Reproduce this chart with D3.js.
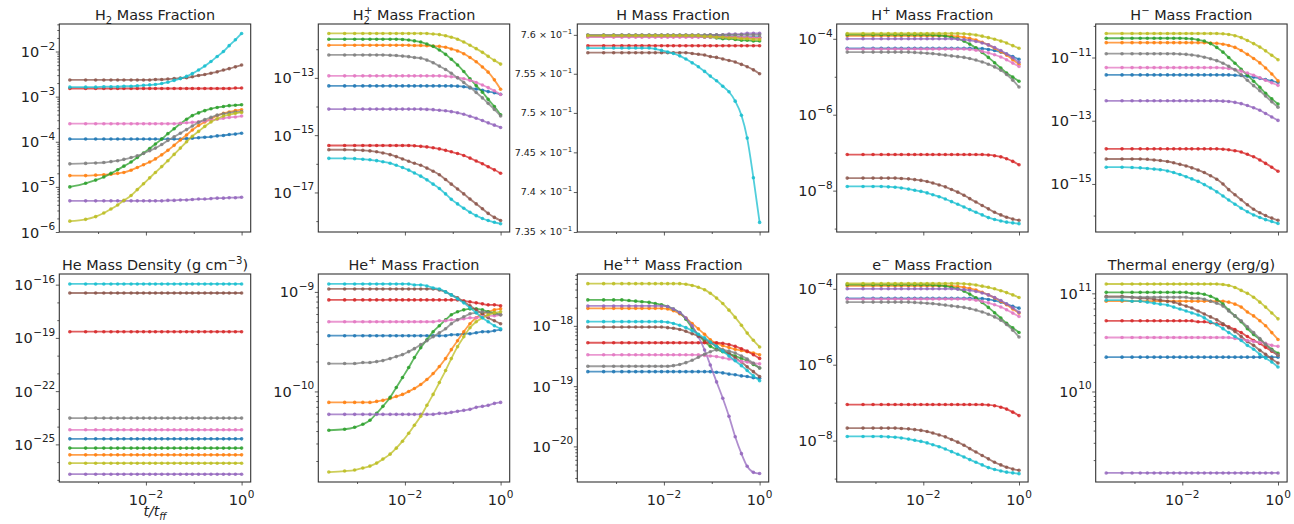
<!doctype html>
<html lang="en">
<head>
  <meta charset="utf-8">
  <title>Chemistry evolution</title>
  <script src="https://cdn.jsdelivr.net/npm/d3@7"></script>
  <style>
    body { margin: 0; background: #fff; }
    text { font-family: "DejaVu Sans", sans-serif; fill: #222; }
  </style>
</head>
<body>
<svg id="chart" width="1294" height="524"></svg>

<script>

// sample times t/t_ff (marker positions)
const tff = [2.57e-4, 5.50e-4, 8.91e-4, 1.32e-3, 1.86e-3, 2.57e-3, 3.47e-3, 4.90e-3, 6.61e-3, 8.91e-3,
  1.20e-2, 1.58e-2, 2.14e-2, 2.88e-2, 3.89e-2, 5.25e-2, 7.08e-2, 9.33e-2, 0.126, 0.170,
  0.229, 0.309, 0.417, 0.550, 0.741, 1.0]

// each panel: 10 runs, order blue, orange, green, red, purple, brown, pink, gray, olive, cyan
// values are log10 of the quantity, except hFrac which is the plain fraction

const h2Frac = [
  [-3.94,-3.94,-3.94,-3.94,-3.94,-3.94,-3.94,-3.94,-3.94,-3.94,-3.94,-3.94,-3.94,-3.94,-3.94,-3.94,-3.93,-3.92,-3.91,-3.90,-3.89,-3.87,-3.86,-3.84,-3.83,-3.81],
  [-4.75,-4.75,-4.74,-4.73,-4.72,-4.70,-4.68,-4.63,-4.57,-4.51,-4.45,-4.38,-4.29,-4.19,-4.08,-3.96,-3.85,-3.74,-3.64,-3.56,-3.49,-3.42,-3.37,-3.34,-3.31,-3.29],
  [-5.00,-4.92,-4.85,-4.78,-4.70,-4.62,-4.54,-4.45,-4.35,-4.25,-4.15,-4.05,-3.94,-3.82,-3.71,-3.60,-3.50,-3.42,-3.36,-3.31,-3.27,-3.24,-3.22,-3.20,-3.19,-3.18],
  [-2.82,-2.82,-2.82,-2.82,-2.82,-2.82,-2.82,-2.82,-2.82,-2.82,-2.82,-2.82,-2.82,-2.82,-2.82,-2.82,-2.82,-2.82,-2.82,-2.82,-2.82,-2.82,-2.82,-2.82,-2.81,-2.81],
  [-5.31,-5.31,-5.31,-5.31,-5.31,-5.31,-5.31,-5.31,-5.31,-5.31,-5.31,-5.31,-5.31,-5.30,-5.30,-5.29,-5.29,-5.28,-5.27,-5.27,-5.26,-5.25,-5.25,-5.24,-5.24,-5.23],
  [-2.63,-2.63,-2.63,-2.63,-2.63,-2.63,-2.63,-2.63,-2.63,-2.63,-2.63,-2.62,-2.62,-2.61,-2.60,-2.59,-2.58,-2.56,-2.53,-2.51,-2.48,-2.45,-2.41,-2.38,-2.34,-2.30],
  [-3.60,-3.60,-3.60,-3.60,-3.60,-3.60,-3.60,-3.60,-3.60,-3.60,-3.60,-3.60,-3.60,-3.60,-3.60,-3.59,-3.58,-3.57,-3.56,-3.54,-3.52,-3.50,-3.48,-3.46,-3.45,-3.43],
  [-4.49,-4.48,-4.47,-4.46,-4.44,-4.42,-4.39,-4.35,-4.31,-4.26,-4.20,-4.14,-4.06,-3.97,-3.89,-3.81,-3.73,-3.65,-3.57,-3.51,-3.46,-3.41,-3.38,-3.36,-3.34,-3.33],
  [-5.76,-5.72,-5.66,-5.58,-5.49,-5.40,-5.30,-5.19,-5.06,-4.93,-4.80,-4.68,-4.55,-4.42,-4.28,-4.14,-4.00,-3.88,-3.77,-3.66,-3.56,-3.49,-3.43,-3.40,-3.37,-3.35],
  [-2.79,-2.79,-2.79,-2.78,-2.78,-2.78,-2.77,-2.77,-2.76,-2.75,-2.74,-2.73,-2.71,-2.68,-2.64,-2.60,-2.55,-2.49,-2.41,-2.32,-2.22,-2.11,-2.00,-1.87,-1.74,-1.60]
]

const h2pFrac = [
  [-13.28,-13.28,-13.28,-13.28,-13.28,-13.28,-13.28,-13.28,-13.28,-13.28,-13.28,-13.28,-13.28,-13.28,-13.28,-13.28,-13.28,-13.28,-13.29,-13.31,-13.35,-13.39,-13.43,-13.48,-13.52,-13.57],
  [-11.86,-11.86,-11.86,-11.86,-11.86,-11.86,-11.86,-11.86,-11.86,-11.86,-11.86,-11.87,-11.87,-11.88,-11.89,-11.90,-11.93,-11.99,-12.06,-12.16,-12.29,-12.44,-12.62,-12.80,-13.07,-13.40],
  [-11.65,-11.65,-11.65,-11.65,-11.65,-11.65,-11.65,-11.65,-11.65,-11.66,-11.68,-11.71,-11.75,-11.82,-11.90,-12.03,-12.18,-12.35,-12.55,-12.78,-13.03,-13.27,-13.50,-13.75,-14.00,-14.29],
  [-15.36,-15.36,-15.36,-15.36,-15.36,-15.36,-15.36,-15.36,-15.36,-15.36,-15.36,-15.37,-15.39,-15.41,-15.44,-15.48,-15.53,-15.58,-15.64,-15.71,-15.80,-15.90,-16.00,-16.10,-16.21,-16.33],
  [-14.09,-14.09,-14.09,-14.09,-14.09,-14.09,-14.09,-14.09,-14.09,-14.09,-14.09,-14.09,-14.09,-14.10,-14.11,-14.13,-14.15,-14.18,-14.22,-14.27,-14.34,-14.41,-14.49,-14.57,-14.65,-14.73],
  [-15.51,-15.51,-15.52,-15.53,-15.55,-15.58,-15.62,-15.68,-15.75,-15.83,-15.91,-15.98,-16.05,-16.15,-16.26,-16.38,-16.55,-16.71,-16.88,-17.05,-17.23,-17.40,-17.57,-17.73,-17.87,-17.98],
  [-12.93,-12.93,-12.93,-12.93,-12.93,-12.93,-12.93,-12.93,-12.93,-12.93,-12.93,-12.93,-12.93,-12.93,-12.93,-12.93,-12.94,-12.96,-12.99,-13.03,-13.09,-13.16,-13.25,-13.34,-13.45,-13.58],
  [-12.20,-12.20,-12.20,-12.20,-12.20,-12.20,-12.20,-12.21,-12.22,-12.24,-12.26,-12.29,-12.31,-12.38,-12.47,-12.59,-12.71,-12.84,-13.00,-13.16,-13.33,-13.51,-13.70,-13.89,-14.10,-14.33],
  [-11.45,-11.45,-11.45,-11.45,-11.45,-11.45,-11.45,-11.45,-11.45,-11.45,-11.45,-11.45,-11.45,-11.45,-11.47,-11.49,-11.53,-11.58,-11.65,-11.75,-11.86,-11.98,-12.11,-12.25,-12.39,-12.52],
  [-15.81,-15.81,-15.82,-15.84,-15.86,-15.89,-15.93,-15.98,-16.05,-16.13,-16.22,-16.32,-16.43,-16.56,-16.71,-16.86,-17.05,-17.24,-17.40,-17.55,-17.69,-17.81,-17.91,-17.98,-18.04,-18.09]
]

const hFrac = [
  [0.7598,0.7598,0.7598,0.7598,0.7598,0.7598,0.7598,0.7598,0.7598,0.7598,0.7598,0.7598,0.7598,0.7598,0.7598,0.7598,0.7598,0.7598,0.7598,0.7598,0.7598,0.7598,0.7597,0.7597,0.7597,0.7597],
  [0.7598,0.7598,0.7598,0.7598,0.7598,0.7598,0.7598,0.7598,0.7598,0.7598,0.7598,0.7598,0.7598,0.7598,0.7598,0.7598,0.7598,0.7598,0.7598,0.7597,0.7597,0.7597,0.7596,0.7596,0.7596,0.7596],
  [0.7599,0.7599,0.7599,0.7599,0.7599,0.7599,0.7599,0.7599,0.7599,0.7599,0.7599,0.7599,0.7599,0.7599,0.7598,0.7598,0.7597,0.7597,0.7596,0.7595,0.7595,0.7594,0.7593,0.7593,0.7592,0.7592],
  [0.7586,0.7586,0.7586,0.7586,0.7586,0.7586,0.7586,0.7586,0.7586,0.7586,0.7586,0.7586,0.7586,0.7586,0.7586,0.7586,0.7586,0.7586,0.7586,0.7586,0.7586,0.7586,0.7586,0.7586,0.7586,0.7586],
  [0.7599,0.7599,0.7599,0.7599,0.7599,0.7599,0.7599,0.7599,0.7599,0.7599,0.7599,0.7599,0.7599,0.7599,0.7599,0.7599,0.7599,0.7600,0.7600,0.7600,0.7601,0.7601,0.7601,0.7602,0.7602,0.7602],
  [0.7577,0.7577,0.7577,0.7577,0.7577,0.7577,0.7577,0.7577,0.7577,0.7577,0.7577,0.7577,0.7577,0.7577,0.7576,0.7575,0.7574,0.7572,0.7571,0.7569,0.7567,0.7565,0.7562,0.7559,0.7555,0.7550],
  [0.7597,0.7597,0.7597,0.7597,0.7597,0.7597,0.7597,0.7597,0.7597,0.7597,0.7597,0.7597,0.7597,0.7597,0.7597,0.7597,0.7597,0.7597,0.7597,0.7597,0.7597,0.7597,0.7597,0.7597,0.7596,0.7596],
  [0.7600,0.7600,0.7600,0.7600,0.7600,0.7600,0.7600,0.7600,0.7600,0.7600,0.7600,0.7600,0.7600,0.7600,0.7600,0.7600,0.7600,0.7600,0.7600,0.7600,0.7600,0.7600,0.7600,0.7600,0.7600,0.7600],
  [0.7599,0.7599,0.7599,0.7599,0.7599,0.7599,0.7599,0.7599,0.7599,0.7599,0.7599,0.7599,0.7599,0.7599,0.7599,0.7599,0.7598,0.7598,0.7597,0.7597,0.7596,0.7596,0.7595,0.7595,0.7594,0.7594],
  [0.7583,0.7583,0.7583,0.7583,0.7583,0.7583,0.7583,0.7583,0.7582,0.7580,0.7578,0.7576,0.7573,0.7569,0.7564,0.7559,0.7553,0.7547,0.7541,0.7534,0.7527,0.7515,0.7497,0.7468,0.7418,0.7362]
]

const hpFrac = [
  [-4.25,-4.25,-4.25,-4.25,-4.25,-4.25,-4.25,-4.25,-4.25,-4.25,-4.25,-4.25,-4.25,-4.25,-4.25,-4.25,-4.25,-4.25,-4.25,-4.26,-4.28,-4.31,-4.35,-4.40,-4.47,-4.54],
  [-3.92,-3.92,-3.92,-3.92,-3.92,-3.92,-3.92,-3.92,-3.92,-3.92,-3.92,-3.92,-3.92,-3.92,-3.93,-3.94,-3.96,-3.99,-4.03,-4.09,-4.16,-4.25,-4.34,-4.43,-4.55,-4.67],
  [-3.89,-3.89,-3.89,-3.89,-3.89,-3.89,-3.89,-3.89,-3.89,-3.89,-3.89,-3.90,-3.91,-3.93,-3.96,-4.00,-4.06,-4.14,-4.24,-4.36,-4.49,-4.63,-4.77,-4.90,-5.01,-5.12],
  [-7.05,-7.05,-7.05,-7.05,-7.05,-7.05,-7.05,-7.05,-7.05,-7.05,-7.05,-7.05,-7.05,-7.05,-7.05,-7.05,-7.05,-7.05,-7.05,-7.05,-7.06,-7.08,-7.11,-7.16,-7.23,-7.32],
  [-4.00,-4.00,-4.00,-4.00,-4.00,-4.00,-4.00,-4.00,-4.00,-4.00,-4.00,-4.00,-4.00,-4.00,-4.00,-4.01,-4.02,-4.04,-4.07,-4.11,-4.16,-4.23,-4.31,-4.40,-4.50,-4.62],
  [-7.67,-7.67,-7.67,-7.67,-7.67,-7.67,-7.68,-7.69,-7.71,-7.73,-7.76,-7.80,-7.85,-7.90,-7.97,-8.04,-8.12,-8.21,-8.30,-8.39,-8.48,-8.57,-8.64,-8.70,-8.75,-8.78],
  [-4.27,-4.27,-4.27,-4.27,-4.27,-4.27,-4.27,-4.27,-4.27,-4.27,-4.27,-4.27,-4.27,-4.27,-4.27,-4.27,-4.27,-4.28,-4.30,-4.33,-4.37,-4.42,-4.48,-4.55,-4.64,-4.73],
  [-4.35,-4.35,-4.35,-4.35,-4.35,-4.35,-4.35,-4.35,-4.36,-4.37,-4.38,-4.39,-4.41,-4.43,-4.45,-4.47,-4.49,-4.52,-4.56,-4.61,-4.67,-4.74,-4.83,-4.94,-5.09,-5.27],
  [-3.86,-3.86,-3.86,-3.86,-3.86,-3.86,-3.86,-3.86,-3.86,-3.86,-3.86,-3.86,-3.86,-3.86,-3.86,-3.86,-3.87,-3.88,-3.90,-3.93,-3.97,-4.01,-4.06,-4.11,-4.18,-4.25],
  [-7.89,-7.89,-7.89,-7.89,-7.90,-7.91,-7.93,-7.96,-7.99,-8.02,-8.06,-8.11,-8.16,-8.22,-8.29,-8.36,-8.43,-8.50,-8.57,-8.64,-8.71,-8.76,-8.80,-8.83,-8.85,-8.87]
]

const hmFrac = [
  [-11.55,-11.55,-11.55,-11.55,-11.55,-11.55,-11.55,-11.55,-11.55,-11.55,-11.55,-11.55,-11.55,-11.55,-11.55,-11.55,-11.55,-11.55,-11.56,-11.57,-11.59,-11.62,-11.66,-11.70,-11.74,-11.79],
  [-10.53,-10.53,-10.53,-10.53,-10.53,-10.53,-10.53,-10.53,-10.53,-10.53,-10.53,-10.53,-10.53,-10.53,-10.54,-10.55,-10.58,-10.62,-10.68,-10.78,-10.90,-11.03,-11.17,-11.33,-11.52,-11.74],
  [-10.39,-10.39,-10.39,-10.39,-10.39,-10.39,-10.39,-10.39,-10.39,-10.39,-10.40,-10.41,-10.44,-10.48,-10.56,-10.68,-10.83,-11.00,-11.18,-11.37,-11.56,-11.75,-11.94,-12.13,-12.31,-12.47],
  [-13.89,-13.89,-13.89,-13.89,-13.89,-13.89,-13.89,-13.89,-13.89,-13.89,-13.89,-13.89,-13.89,-13.89,-13.89,-13.89,-13.90,-13.92,-13.95,-13.99,-14.06,-14.14,-14.24,-14.35,-14.47,-14.60],
  [-12.37,-12.37,-12.37,-12.37,-12.37,-12.37,-12.37,-12.37,-12.37,-12.37,-12.37,-12.37,-12.37,-12.37,-12.37,-12.37,-12.38,-12.39,-12.42,-12.46,-12.52,-12.59,-12.67,-12.77,-12.88,-12.99],
  [-14.21,-14.21,-14.21,-14.21,-14.22,-14.24,-14.26,-14.29,-14.33,-14.38,-14.43,-14.49,-14.56,-14.64,-14.74,-14.85,-15.00,-15.18,-15.34,-15.50,-15.66,-15.80,-15.91,-16.00,-16.08,-16.15],
  [-11.32,-11.32,-11.32,-11.32,-11.32,-11.32,-11.32,-11.32,-11.32,-11.32,-11.32,-11.32,-11.32,-11.32,-11.32,-11.32,-11.33,-11.35,-11.38,-11.43,-11.49,-11.56,-11.64,-11.72,-11.80,-11.88],
  [-10.88,-10.88,-10.88,-10.88,-10.88,-10.88,-10.88,-10.88,-10.88,-10.89,-10.90,-10.92,-10.95,-10.99,-11.04,-11.10,-11.18,-11.28,-11.39,-11.55,-11.72,-11.89,-12.05,-12.22,-12.40,-12.57],
  [-10.24,-10.24,-10.24,-10.24,-10.24,-10.24,-10.24,-10.24,-10.24,-10.24,-10.24,-10.24,-10.24,-10.24,-10.24,-10.24,-10.25,-10.27,-10.31,-10.37,-10.46,-10.56,-10.67,-10.79,-10.93,-11.07],
  [-14.47,-14.47,-14.48,-14.49,-14.51,-14.53,-14.55,-14.59,-14.64,-14.70,-14.77,-14.84,-14.92,-15.02,-15.13,-15.25,-15.38,-15.51,-15.64,-15.77,-15.88,-15.98,-16.06,-16.13,-16.19,-16.25]
]

const heDens = [
  [-24.69,-24.69,-24.69,-24.69,-24.69,-24.69,-24.69,-24.69,-24.69,-24.69,-24.69,-24.69,-24.69,-24.69,-24.69,-24.69,-24.69,-24.69,-24.69,-24.69,-24.69,-24.69,-24.69,-24.69,-24.69,-24.69],
  [-25.59,-25.59,-25.59,-25.59,-25.59,-25.59,-25.59,-25.59,-25.59,-25.59,-25.59,-25.59,-25.59,-25.59,-25.59,-25.59,-25.59,-25.59,-25.59,-25.59,-25.59,-25.59,-25.59,-25.59,-25.59,-25.59],
  [-25.21,-25.21,-25.21,-25.21,-25.21,-25.21,-25.21,-25.21,-25.21,-25.21,-25.21,-25.21,-25.21,-25.21,-25.21,-25.21,-25.21,-25.21,-25.21,-25.21,-25.21,-25.21,-25.21,-25.21,-25.21,-25.21],
  [-18.65,-18.65,-18.65,-18.65,-18.65,-18.65,-18.65,-18.65,-18.65,-18.65,-18.65,-18.65,-18.65,-18.65,-18.65,-18.65,-18.65,-18.65,-18.65,-18.65,-18.65,-18.65,-18.65,-18.65,-18.65,-18.65],
  [-26.68,-26.68,-26.68,-26.68,-26.68,-26.68,-26.68,-26.68,-26.68,-26.68,-26.68,-26.68,-26.68,-26.68,-26.68,-26.68,-26.68,-26.68,-26.68,-26.68,-26.68,-26.68,-26.68,-26.68,-26.68,-26.68],
  [-16.47,-16.47,-16.47,-16.47,-16.47,-16.47,-16.47,-16.47,-16.47,-16.47,-16.47,-16.47,-16.47,-16.47,-16.47,-16.47,-16.47,-16.47,-16.47,-16.47,-16.47,-16.47,-16.47,-16.47,-16.47,-16.47],
  [-24.18,-24.18,-24.18,-24.18,-24.18,-24.18,-24.18,-24.18,-24.18,-24.18,-24.18,-24.18,-24.18,-24.18,-24.18,-24.18,-24.18,-24.18,-24.18,-24.18,-24.18,-24.18,-24.18,-24.18,-24.18,-24.18],
  [-23.52,-23.52,-23.52,-23.52,-23.52,-23.52,-23.52,-23.52,-23.52,-23.52,-23.52,-23.52,-23.52,-23.52,-23.52,-23.52,-23.52,-23.52,-23.52,-23.52,-23.52,-23.52,-23.52,-23.52,-23.52,-23.52],
  [-26.06,-26.06,-26.06,-26.06,-26.06,-26.06,-26.06,-26.06,-26.06,-26.06,-26.06,-26.06,-26.06,-26.06,-26.06,-26.06,-26.06,-26.06,-26.06,-26.06,-26.06,-26.06,-26.06,-26.06,-26.06,-26.06],
  [-15.96,-15.96,-15.96,-15.96,-15.96,-15.96,-15.96,-15.96,-15.96,-15.96,-15.96,-15.96,-15.96,-15.96,-15.96,-15.96,-15.96,-15.96,-15.96,-15.96,-15.96,-15.96,-15.96,-15.96,-15.96,-15.96]
]

const hepFrac = [
  [-9.44,-9.44,-9.44,-9.44,-9.44,-9.44,-9.44,-9.44,-9.44,-9.44,-9.44,-9.44,-9.44,-9.44,-9.44,-9.44,-9.44,-9.43,-9.43,-9.42,-9.42,-9.41,-9.40,-9.40,-9.39,-9.38],
  [-10.11,-10.11,-10.11,-10.11,-10.11,-10.10,-10.09,-10.07,-10.05,-10.03,-10.00,-9.97,-9.93,-9.88,-9.82,-9.75,-9.67,-9.58,-9.49,-9.40,-9.32,-9.26,-9.22,-9.20,-9.18,-9.17],
  [-10.39,-10.38,-10.36,-10.33,-10.29,-10.22,-10.15,-10.06,-9.96,-9.86,-9.76,-9.66,-9.56,-9.48,-9.40,-9.34,-9.28,-9.23,-9.20,-9.18,-9.17,-9.17,-9.18,-9.20,-9.21,-9.23],
  [-9.08,-9.08,-9.08,-9.08,-9.08,-9.08,-9.08,-9.08,-9.08,-9.08,-9.08,-9.08,-9.08,-9.08,-9.08,-9.08,-9.08,-9.08,-9.08,-9.09,-9.10,-9.11,-9.12,-9.13,-9.13,-9.14],
  [-10.23,-10.23,-10.23,-10.23,-10.23,-10.23,-10.23,-10.23,-10.23,-10.23,-10.23,-10.23,-10.23,-10.23,-10.23,-10.22,-10.22,-10.21,-10.20,-10.19,-10.18,-10.16,-10.15,-10.14,-10.12,-10.11],
  [-8.97,-8.97,-8.97,-8.97,-8.97,-8.97,-8.97,-8.97,-8.97,-8.97,-8.97,-8.97,-8.97,-8.97,-8.97,-8.98,-9.00,-9.03,-9.06,-9.10,-9.14,-9.18,-9.22,-9.26,-9.29,-9.32],
  [-9.30,-9.30,-9.30,-9.30,-9.30,-9.30,-9.30,-9.30,-9.30,-9.30,-9.30,-9.30,-9.30,-9.30,-9.30,-9.29,-9.29,-9.28,-9.28,-9.27,-9.26,-9.26,-9.25,-9.24,-9.24,-9.23],
  [-9.72,-9.72,-9.72,-9.71,-9.71,-9.70,-9.69,-9.67,-9.65,-9.63,-9.60,-9.57,-9.53,-9.49,-9.45,-9.41,-9.37,-9.32,-9.28,-9.25,-9.22,-9.21,-9.20,-9.21,-9.22,-9.23],
  [-10.81,-10.80,-10.79,-10.77,-10.75,-10.72,-10.68,-10.63,-10.57,-10.50,-10.42,-10.34,-10.25,-10.14,-10.03,-9.91,-9.79,-9.67,-9.55,-9.45,-9.36,-9.30,-9.26,-9.23,-9.21,-9.20],
  [-8.92,-8.92,-8.92,-8.92,-8.92,-8.92,-8.92,-8.92,-8.92,-8.92,-8.92,-8.93,-8.93,-8.94,-8.96,-8.97,-9.00,-9.03,-9.07,-9.11,-9.16,-9.21,-9.26,-9.30,-9.34,-9.37]
]

const heppFrac = [
  [-18.76,-18.76,-18.76,-18.76,-18.76,-18.76,-18.76,-18.76,-18.76,-18.76,-18.76,-18.76,-18.76,-18.76,-18.76,-18.76,-18.76,-18.76,-18.77,-18.78,-18.80,-18.81,-18.83,-18.84,-18.86,-18.87],
  [-17.71,-17.71,-17.71,-17.71,-17.71,-17.71,-17.71,-17.71,-17.71,-17.71,-17.72,-17.75,-17.80,-17.87,-17.96,-18.05,-18.14,-18.23,-18.29,-18.33,-18.36,-18.39,-18.41,-18.43,-18.45,-18.48],
  [-17.57,-17.57,-17.57,-17.57,-17.58,-17.59,-17.60,-17.61,-17.63,-17.65,-17.68,-17.72,-17.78,-17.89,-18.03,-18.15,-18.26,-18.34,-18.39,-18.43,-18.46,-18.50,-18.54,-18.58,-18.64,-18.70],
  [-18.28,-18.28,-18.28,-18.28,-18.28,-18.28,-18.28,-18.28,-18.28,-18.28,-18.28,-18.28,-18.28,-18.28,-18.28,-18.28,-18.28,-18.28,-18.28,-18.29,-18.31,-18.34,-18.38,-18.42,-18.48,-18.54],
  [-17.67,-17.67,-17.67,-17.67,-17.67,-17.67,-17.67,-17.67,-17.67,-17.67,-17.68,-17.72,-17.78,-17.87,-18.00,-18.18,-18.40,-18.65,-18.93,-19.20,-19.50,-19.84,-20.12,-20.33,-20.43,-20.45],
  [-18.02,-18.02,-18.02,-18.02,-18.02,-18.02,-18.02,-18.02,-18.02,-18.02,-18.03,-18.04,-18.06,-18.09,-18.13,-18.17,-18.22,-18.28,-18.34,-18.40,-18.46,-18.53,-18.60,-18.68,-18.76,-18.84],
  [-18.48,-18.48,-18.48,-18.48,-18.48,-18.48,-18.48,-18.48,-18.48,-18.48,-18.48,-18.48,-18.48,-18.48,-18.48,-18.48,-18.49,-18.50,-18.51,-18.53,-18.55,-18.57,-18.59,-18.60,-18.62,-18.63],
  [-18.67,-18.67,-18.67,-18.67,-18.67,-18.67,-18.67,-18.67,-18.67,-18.67,-18.67,-18.66,-18.64,-18.61,-18.57,-18.52,-18.47,-18.43,-18.40,-18.40,-18.42,-18.45,-18.50,-18.55,-18.62,-18.70],
  [-17.30,-17.30,-17.30,-17.30,-17.30,-17.30,-17.30,-17.30,-17.30,-17.30,-17.30,-17.30,-17.30,-17.31,-17.33,-17.36,-17.40,-17.46,-17.54,-17.63,-17.74,-17.86,-17.99,-18.12,-18.24,-18.35],
  [-17.93,-17.93,-17.93,-17.93,-17.93,-17.93,-17.93,-17.93,-17.93,-17.93,-17.94,-17.96,-17.99,-18.03,-18.08,-18.14,-18.20,-18.27,-18.34,-18.42,-18.50,-18.58,-18.66,-18.74,-18.83,-18.91]
]

const eFrac = [
  [-4.25,-4.25,-4.25,-4.25,-4.25,-4.25,-4.25,-4.25,-4.25,-4.25,-4.25,-4.25,-4.25,-4.25,-4.25,-4.25,-4.25,-4.25,-4.25,-4.26,-4.28,-4.31,-4.35,-4.40,-4.46,-4.51],
  [-3.92,-3.92,-3.92,-3.92,-3.92,-3.92,-3.92,-3.92,-3.92,-3.92,-3.92,-3.92,-3.92,-3.92,-3.93,-3.94,-3.96,-3.99,-4.03,-4.09,-4.16,-4.24,-4.33,-4.42,-4.53,-4.64],
  [-3.89,-3.89,-3.89,-3.89,-3.89,-3.89,-3.89,-3.89,-3.89,-3.89,-3.89,-3.90,-3.91,-3.93,-3.96,-4.00,-4.06,-4.14,-4.24,-4.36,-4.49,-4.63,-4.77,-4.91,-5.03,-5.15],
  [-7.05,-7.05,-7.05,-7.05,-7.05,-7.05,-7.05,-7.05,-7.05,-7.05,-7.05,-7.05,-7.05,-7.05,-7.05,-7.05,-7.05,-7.05,-7.05,-7.05,-7.06,-7.08,-7.12,-7.17,-7.25,-7.34],
  [-4.00,-4.00,-4.00,-4.00,-4.00,-4.00,-4.00,-4.00,-4.00,-4.00,-4.00,-4.00,-4.00,-4.00,-4.00,-4.01,-4.02,-4.04,-4.07,-4.11,-4.16,-4.23,-4.31,-4.40,-4.50,-4.62],
  [-7.67,-7.67,-7.67,-7.67,-7.67,-7.67,-7.68,-7.69,-7.71,-7.73,-7.76,-7.80,-7.85,-7.90,-7.97,-8.04,-8.12,-8.21,-8.30,-8.39,-8.48,-8.57,-8.64,-8.70,-8.75,-8.78],
  [-4.27,-4.27,-4.27,-4.27,-4.27,-4.27,-4.27,-4.27,-4.27,-4.27,-4.27,-4.27,-4.27,-4.27,-4.27,-4.27,-4.27,-4.28,-4.30,-4.33,-4.37,-4.42,-4.48,-4.55,-4.64,-4.73],
  [-4.35,-4.35,-4.35,-4.35,-4.35,-4.35,-4.35,-4.35,-4.36,-4.37,-4.38,-4.39,-4.41,-4.43,-4.45,-4.47,-4.49,-4.52,-4.56,-4.61,-4.67,-4.74,-4.83,-4.94,-5.09,-5.27],
  [-3.86,-3.86,-3.86,-3.86,-3.86,-3.86,-3.86,-3.86,-3.86,-3.86,-3.86,-3.86,-3.86,-3.86,-3.86,-3.86,-3.87,-3.88,-3.90,-3.93,-3.96,-4.00,-4.05,-4.10,-4.16,-4.23],
  [-7.89,-7.89,-7.89,-7.89,-7.90,-7.91,-7.93,-7.96,-7.99,-8.02,-8.06,-8.11,-8.16,-8.22,-8.29,-8.36,-8.43,-8.50,-8.57,-8.64,-8.71,-8.76,-8.80,-8.83,-8.85,-8.87]
]

const thermal = [
  [10.35,10.35,10.35,10.35,10.35,10.35,10.35,10.35,10.35,10.35,10.35,10.35,10.35,10.35,10.35,10.35,10.35,10.35,10.35,10.35,10.35,10.35,10.35,10.35,10.35,10.35],
  [10.92,10.92,10.92,10.92,10.92,10.92,10.92,10.92,10.92,10.92,10.92,10.92,10.92,10.92,10.92,10.92,10.92,10.91,10.89,10.86,10.81,10.77,10.72,10.67,10.60,10.53],
  [11.01,11.01,11.01,11.01,11.01,11.01,11.01,11.01,11.01,11.01,11.01,11.00,11.00,10.99,10.97,10.94,10.89,10.83,10.77,10.71,10.64,10.58,10.53,10.48,10.43,10.39],
  [10.72,10.72,10.72,10.72,10.72,10.72,10.72,10.72,10.72,10.72,10.72,10.72,10.71,10.71,10.70,10.69,10.68,10.66,10.63,10.60,10.56,10.52,10.49,10.45,10.41,10.37],
  [9.17,9.17,9.17,9.17,9.17,9.17,9.17,9.17,9.17,9.17,9.17,9.17,9.17,9.17,9.17,9.17,9.17,9.17,9.17,9.17,9.17,9.17,9.17,9.17,9.17,9.17],
  [10.97,10.97,10.96,10.95,10.95,10.94,10.93,10.92,10.91,10.89,10.87,10.85,10.82,10.79,10.76,10.73,10.69,10.65,10.61,10.56,10.51,10.47,10.42,10.38,10.33,10.29],
  [10.55,10.55,10.55,10.55,10.55,10.55,10.55,10.55,10.55,10.55,10.55,10.55,10.55,10.55,10.55,10.55,10.55,10.55,10.54,10.53,10.52,10.51,10.50,10.49,10.47,10.46],
  [10.96,10.96,10.96,10.96,10.96,10.96,10.96,10.96,10.96,10.96,10.96,10.95,10.95,10.94,10.92,10.90,10.87,10.82,10.77,10.72,10.66,10.60,10.54,10.48,10.42,10.37],
  [11.095,11.095,11.095,11.095,11.095,11.095,11.095,11.095,11.095,11.095,11.095,11.095,11.095,11.095,11.095,11.095,11.09,11.08,11.06,11.03,11.00,10.96,10.91,10.86,10.80,10.74],
  [10.93,10.93,10.92,10.92,10.91,10.90,10.89,10.88,10.86,10.84,10.82,10.80,10.78,10.75,10.71,10.68,10.64,10.60,10.56,10.52,10.47,10.43,10.38,10.34,10.30,10.25]
]

// panel definitions: title pieces, data, y range (log10 for log panels), labelled ticks
const panels = [
  { title: [["H"], ["2", "sub"], [" Mass Fraction"]], data: h2Frac, log: true,
    y: [-6.0, -1.39], major: [-6, -5, -4, -3, -2], minor: "sub" },
  { title: [["H"], ["2", "sub"], ["+", "sup", -6], ["  Mass Fraction"]], data: h2pFrac, log: true,
    y: [-18.38, -11.12], major: [-17, -15, -13], minor: "dec" },
  { title: [["H Mass Fraction"]], data: hFrac, log: false,
    y: [0.735, 0.7614], major: [0.735, 0.74, 0.745, 0.75, 0.755, 0.76], minor: null },
  { title: [["H"], ["+", "sup"], ["  Mass Fraction"]], data: hpFrac, log: true,
    y: [-9.09, -3.61], major: [-8, -6, -4], minor: "dec" },
  { title: [["H"], ["\u2212", "sup"], ["  Mass Fraction"]], data: hmFrac, log: true,
    y: [-16.52, -9.94], major: [-15, -13, -11], minor: "dec" },
  { title: [["He Mass Density (g cm"], ["\u22123", "sup"], [")"]], data: heDens, log: true,
    y: [-27.12, -15.40], major: [-25, -22, -19, -16], minor: "dec" },
  { title: [["He"], ["+", "sup"], ["  Mass Fraction"]], data: hepFrac, log: true,
    y: [-10.91, -8.82], major: [-10, -9], minor: "sub" },
  { title: [["He"], ["++", "sup"], ["  Mass Fraction"]], data: heppFrac, log: true,
    y: [-20.59, -17.14], major: [-20, -19, -18], minor: "sub" },
  { title: [["e"], ["\u2212", "sup"], ["  Mass Fraction"]], data: eFrac, log: true,
    y: [-9.09, -3.61], major: [-8, -6, -4], minor: "dec" },
  { title: [["Thermal energy (erg/g)"]], data: thermal, log: true,
    y: [9.078, 11.197], major: [10, 11], minor: "sub" }
]

const xMajor = [1e-2, 1]
const xMinor = [1e-3, 1e-1]

const svg = d3.select("#chart")
const colors = d3.schemeCategory10

const lefts = [59.3, 318.3, 577.3, 836.7, 1095.7],
  tops = [24, 274],
  w = 191.4,
  h = 208

// text with sub/superscript pieces
function rich(sel, parts, size) {
  let shift = 0
  parts.forEach(([s, kind, dx]) => {
    const target = kind === "sup" ? -0.38 * size : kind === "sub" ? 0.28 * size : 0
    const ts = sel.append("tspan").text(s).attr("dy", target - shift)
    if (kind) ts.attr("font-size", size * 0.7)
    if (dx) ts.attr("dx", dx)
    shift = target
  })
}

function expText(e) {
  return e < 0 ? "\u2212" + (-e) : String(e)
}

// "10" with a raised exponent
function powLabel(t, e) {
  t.append("tspan").text("10")
  t.append("tspan").attr("dy", -7.5).attr("dx", 0.5).attr("font-size", 10.5).text(expText(e))
}

panels.forEach((p, i) => {
  const row = Math.floor(i / 5), col = i % 5
  const g = svg.append("g")
    .attr("transform", "translate(" + lefts[col] + "," + tops[row] + ")")

  const x = d3.scaleLog().domain([Math.pow(10, -3.81), Math.pow(10, 0.19)]).range([0, w])
  const conv = v => p.log ? Math.pow(10, v) : v
  const y = d3.scaleLog().domain([conv(p.y[0]), conv(p.y[1])]).range([h, 0])

  // ticks
  const majorVals = p.major.map(conv)
  let minorVals = []
  if (p.minor === "dec") {
    for (let d = Math.ceil(p.y[0]); d <= Math.floor(p.y[1]); d++)
      if (!p.major.includes(d)) minorVals.push(Math.pow(10, d))
  } else if (p.minor === "sub") {
    for (let d = Math.floor(p.y[0]); d <= Math.floor(p.y[1]); d++)
      for (let k = 2; k <= 9; k++) {
        const v = d + Math.log10(k)
        if (v > p.y[0] && v < p.y[1]) minorVals.push(Math.pow(10, v))
      }
  }

  g.append("g")
    .call(d3.axisLeft(y).tickValues(minorVals).tickSize(2).tickFormat(""))
  g.append("g")
    .call(d3.axisLeft(y).tickValues(majorVals).tickSize(3.5).tickFormat(""))
  g.append("g").attr("transform", "translate(0," + h + ")")
    .call(d3.axisBottom(x).tickValues(xMinor).tickSize(2).tickFormat(""))
  g.append("g").attr("transform", "translate(0," + h + ")")
    .call(d3.axisBottom(x).tickValues(xMajor).tickSize(3.5).tickFormat(""))
  g.selectAll(".domain").remove()
  g.selectAll(".tick line").attr("stroke", "#333").attr("stroke-width", 0.8)

  // y tick labels
  p.major.forEach(m => {
    const yy = y(conv(m))
    if (p.log) {
      const t = g.append("text")
        .attr("x", -4).attr("y", yy + 5.5)
        .attr("text-anchor", "end").attr("font-size", 14.5)
      powLabel(t, m)
    } else {
      const t = g.append("text")
        .attr("x", -5).attr("y", yy + 3.2)
        .attr("text-anchor", "end").attr("font-size", 9.5)
      t.append("tspan").text(d3.format(".3~r")(m * 10) + " \u00d7 10")
      t.append("tspan").attr("dy", -4).attr("font-size", 7).text("\u22121")
    }
  })

  // x tick labels on bottom row
  if (row === 1) {
    xMajor.forEach(v => {
      const t = g.append("text")
        .attr("x", x(v)).attr("y", h + 23)
        .attr("text-anchor", "middle").attr("font-size", 14.5)
      powLabel(t, Math.round(Math.log10(v)))
    })
  }

  // series
  const line = d3.line()
    .x((d, j) => x(tff[j]))
    .y(d => y(conv(d)))
    .curve(d3.curveMonotoneX)

  p.data.forEach((s, k) => {
    g.append("path")
      .attr("d", line(s))
      .attr("fill", "none")
      .attr("stroke", colors[k])
      .attr("stroke-width", 1.8)
      .attr("stroke-opacity", 0.75)
    g.append("g").selectAll("circle")
      .data(s)
      .join("circle")
        .attr("cx", (d, j) => x(tff[j]))
        .attr("cy", d => y(conv(d)))
        .attr("r", 1.8)
        .attr("fill", colors[k])
        .attr("fill-opacity", 0.85)
  })

  // frame
  g.append("rect")
    .attr("width", w).attr("height", h)
    .attr("fill", "none").attr("stroke", "#333").attr("stroke-width", 1.1)

  // title
  const title = g.append("text")
    .attr("x", w / 2).attr("y", -4.5)
    .attr("text-anchor", "middle").attr("font-size", 14.4)
  rich(title, p.title, 14.4)
})

// x axis label under the first panel of the bottom row
const xl = svg.append("text")
  .attr("x", lefts[0] + w / 2).attr("y", 516)
  .attr("text-anchor", "middle").attr("font-size", 14).attr("font-style", "italic")
rich(xl, [["t/t"], ["ff", "sub"]], 14)

</script>
</body>
</html>
